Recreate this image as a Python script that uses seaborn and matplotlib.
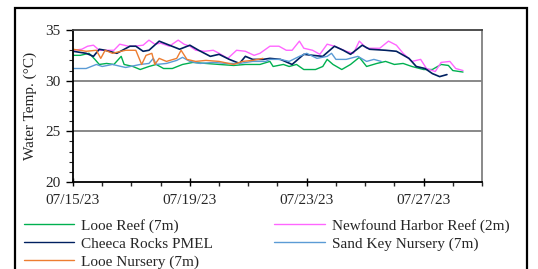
import numpy as np
import pandas as pd
import matplotlib
matplotlib.use("Agg")
import matplotlib.pyplot as plt
import matplotlib.dates as mdates
from matplotlib import font_manager
from matplotlib.patches import Rectangle
import seaborn as sns

# ---- data (days since 07/15/23, water temperature in C) ----
start_date = "2023-07-15"

looe_reef_days = [0, 0.25, 0.55, 0.75, 0.9, 1.15, 1.4, 1.65, 1.75, 2.05, 2.3, 2.6, 2.85, 3.1, 3.4, 3.75,
                  4.1, 4.55, 5.0, 5.5, 5.9, 6.4, 6.74, 6.85, 7.2, 7.4, 7.65, 7.9, 8.3, 8.55, 8.7, 8.9,
                  9.2, 9.5, 9.8, 10.05, 10.4, 10.7, 11.0, 11.3, 11.6, 12.0, 12.3, 12.6, 12.85, 13.0, 13.35]
looe_reef_temp = [32.5, 32.5, 32.7, 32.1, 31.6, 31.7, 31.6, 32.4, 31.6, 31.4, 31.1, 31.4, 31.6, 31.2, 31.2, 31.6,
                  31.8, 31.7, 31.6, 31.5, 31.6, 31.6, 31.9, 31.4, 31.6, 31.4, 31.6, 31.1, 31.1, 31.4, 32.1, 31.6,
                  31.1, 31.6, 32.3, 31.4, 31.7, 31.9, 31.6, 31.7, 31.4, 31.1, 31.1, 31.6, 31.5, 31.0, 30.85]

newfound_days = [0, 0.3, 0.5, 0.7, 0.9, 1.2, 1.4, 1.6, 1.9, 2.1, 2.4, 2.6, 2.8, 3.0, 3.3, 3.6, 3.8, 4.0,
                 4.2, 4.5, 4.8, 5.0, 5.3, 5.6, 5.9, 6.2, 6.4, 6.74, 7.05, 7.3, 7.5, 7.75, 7.9, 8.2, 8.45,
                 8.7, 8.95, 9.35, 9.6, 9.8, 10.05, 10.5, 10.8, 11.07, 11.3, 11.6, 11.9, 12.1, 12.4, 12.6,
                 12.9, 13.1, 13.35]
newfound_temp = [33.0, 33.1, 33.4, 33.5, 33.0, 33.0, 33.0, 33.6, 33.4, 33.4, 33.5, 34.0, 33.6, 33.7, 33.4, 34.0,
                 33.6, 33.4, 33.0, 32.9, 33.0, 32.7, 32.2, 33.0, 32.9, 32.5, 32.7, 33.4, 33.4, 33.0, 33.0, 33.9,
                 33.2, 33.0, 32.6, 33.6, 33.4, 32.9, 32.7, 33.9, 33.2, 33.2, 33.9, 33.5, 32.7, 31.9, 32.1, 31.2,
                 30.9, 31.8, 31.9, 31.2, 31.0]

cheeca_days = [0, 0.45, 0.7, 0.9, 1.1, 1.5, 1.95, 2.15, 2.4, 2.6, 2.95, 3.3, 3.65, 4.0, 4.3, 4.7, 5.0,
               5.35, 5.7, 5.9, 6.15, 6.5, 6.74, 7.1, 7.5, 7.9, 8.2, 8.55, 8.95, 9.25, 9.5, 9.9, 10.15,
               10.7, 11.07, 11.5, 11.75, 12.05, 12.3, 12.55, 12.8]
cheeca_temp = [32.9, 32.7, 32.4, 33.1, 33.0, 32.7, 33.4, 33.4, 32.9, 33.0, 33.9, 33.5, 33.1, 33.5, 33.0, 32.4,
               32.6, 32.1, 31.7, 32.4, 32.1, 32.1, 32.2, 32.1, 31.6, 32.6, 32.5, 32.4, 33.4, 33.0, 32.6, 33.5,
               33.1, 33.0, 32.9, 32.2, 31.4, 31.2, 30.7, 30.4, 30.6]

sand_key_days = [0, 0.45, 0.8, 1.0, 1.35, 1.8, 2.3, 2.6, 2.75, 2.85, 3.2, 3.55, 3.75, 4.0, 4.35, 4.8, 5.25,
                 5.7, 6.15, 6.6, 6.74, 7.1, 7.4, 7.75, 8.0, 8.35, 8.7, 8.85, 9.0, 9.35, 9.75, 10.05, 10.3, 10.55]
sand_key_temp = [31.2, 31.2, 31.6, 31.4, 31.6, 31.3, 31.6, 31.7, 32.2, 31.6, 31.7, 32.0, 32.3, 31.9, 31.7, 31.8,
                 31.7, 31.7, 31.9, 31.9, 32.1, 32.1, 31.9, 32.4, 32.7, 32.2, 32.4, 32.7, 32.1, 32.1, 32.4, 31.9,
                 32.1, 31.9]

looe_nursery_days = [0, 0.45, 0.8, 0.95, 1.1, 1.35, 1.8, 2.15, 2.35, 2.5, 2.7, 2.8, 2.95, 3.2, 3.55, 3.7,
                     3.9, 4.2, 4.55, 5.0, 5.5, 5.8, 6.15, 6.5]
looe_nursery_temp = [33.1, 32.9, 33.0, 32.2, 33.0, 32.7, 33.0, 33.0, 31.6, 32.5, 32.7, 31.6, 32.2, 31.9, 32.2, 33.0,
                     32.1, 31.9, 32.0, 31.9, 31.6, 31.9, 32.0, 32.2]

series_names = ["Looe Reef (7m)", "Newfound Harbor Reef (2m)", "Cheeca Rocks PMEL",
                "Sand Key Nursery (7m)", "Looe Nursery (7m)"]
series_days = [looe_reef_days, newfound_days, cheeca_days, sand_key_days, looe_nursery_days]
series_temp = [looe_reef_temp, newfound_temp, cheeca_temp, sand_key_temp, looe_nursery_temp]
series_colors = ["#00B050", "#FF66FF", "#002060", "#5B9BD5", "#ED7D31"]

y_ticks = [20, 25, 30, 35]
x_label_days = [15, 19, 23, 27]

# ---- build long table ----
t0 = pd.Timestamp(start_date)
frames = []
for name, d, t in zip(series_names, series_days, series_temp):
    frames.append(pd.DataFrame({"time": t0 + pd.to_timedelta(d, unit="D"),
                                "temp": t, "site": name}))
df = pd.concat(frames, ignore_index=True)

sns.set_theme(style="white")
serif_path = font_manager.findfont(font_manager.FontProperties(family="Liberation Serif"),
                                   fallback_to_default=False)
plt.rcParams["font.family"] = ["Liberation Serif", "DejaVu Serif"]

fig = plt.figure(figsize=(5.38, 2.69), dpi=100)
ax = fig.add_axes([73 / 538, 1 - 182 / 269, (482 - 73) / 538, (182 - 30) / 269])

palette = dict(zip(series_names, series_colors))
sns.lineplot(data=df, x="time", y="temp", hue="site", hue_order=series_names,
             palette=palette, linewidth=1.0, ax=ax, legend=False, estimator=None, sort=False)

for line, name in zip(ax.get_lines(), series_names):
    if name == "Cheeca Rocks PMEL":
        line.set_linewidth(1.2)

ax.set_xlim(t0, t0 + pd.Timedelta(days=14))
ax.set_ylim(20, 35)
ax.set_yticks(y_ticks)
ax.yaxis.set_minor_locator(matplotlib.ticker.MultipleLocator(1))
ax.xaxis.set_major_locator(mdates.DayLocator(bymonthday=x_label_days))
ax.xaxis.set_minor_locator(mdates.DayLocator())
ax.xaxis.set_major_formatter(mdates.DateFormatter("%m/%d/%y"))
ax.set_xlabel("")
ax.set_ylabel("Water Temp. (°C)", labelpad=6,
              fontproperties=font_manager.FontProperties(fname=serif_path, size=11))

for v in [25, 30]:
    ax.axhline(v, color="#7F7F7F", lw=1.3, zorder=0)

ax.tick_params(axis="both", which="major", labelsize=11, color="black")
ax.tick_params(axis="x", which="major", direction="inout", length=6, width=1, pad=6)
ax.tick_params(axis="x", which="minor", direction="out", length=3, width=1)
ax.tick_params(axis="y", which="major", direction="out", length=5, width=1, pad=4)
ax.tick_params(axis="y", which="minor", direction="out", length=3, width=0.8)
ax.tick_params(bottom=True, left=True, which="both")
for lbl in ax.get_xticklabels() + ax.get_yticklabels():
    lbl.set_fontproperties(font_manager.FontProperties(fname=serif_path, size=11))

for side in ["left", "bottom"]:
    ax.spines[side].set_color("black")
    ax.spines[side].set_linewidth(1.3)
ax.spines["top"].set_color("#404040")
ax.spines["top"].set_linewidth(1.3)
ax.spines["right"].set_color("#808080")
ax.spines["right"].set_linewidth(1.3)

# legend, row-major order across two columns
handles = {name: plt.Line2D([], [], color=c, lw=1.0) for name, c in zip(series_names, series_colors)}
order = ["Looe Reef (7m)", "Cheeca Rocks PMEL", "Looe Nursery (7m)",
         "Newfound Harbor Reef (2m)", "Sand Key Nursery (7m)"]
fig.legend([handles[n] for n in order], order, loc="upper left",
           bbox_to_anchor=(24 / 538, 1 - 219 / 269), ncol=2, frameon=False,
           prop=font_manager.FontProperties(fname=serif_path, size=11),
           handlelength=3.3, handletextpad=0.45, columnspacing=4.0,
           labelspacing=0.27, borderpad=0, borderaxespad=0)

fig.patches.append(Rectangle((15 / 538, -0.2), (527 - 15) / 538, 0.2 + 1 - 8 / 269,
                             transform=fig.transFigure, fill=False, edgecolor="black",
                             lw=1.6, clip_on=False))

fig.savefig("out.png", dpi=100)
